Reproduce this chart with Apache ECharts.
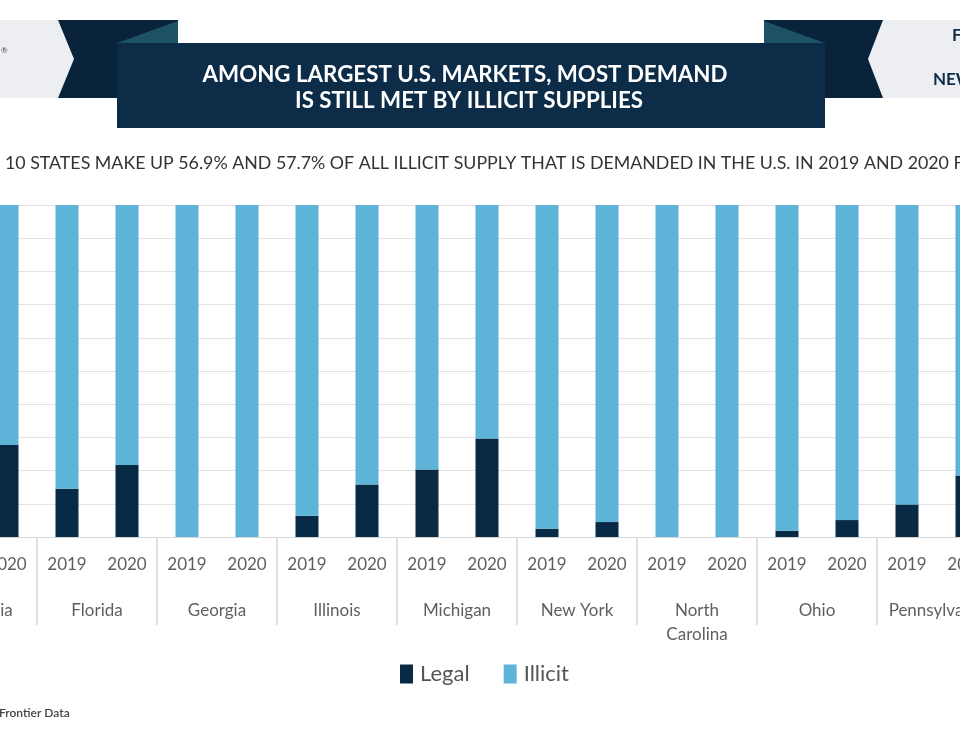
<!DOCTYPE html>
<html>
<head>
<meta charset="utf-8">
<script src="https://cdn.jsdelivr.net/npm/echarts@6/dist/echarts.min.js"></script>
<style>html,body{margin:0;padding:0;background:#fff;overflow:hidden;width:960px;height:750px}#c{position:absolute;left:-120px;top:0;width:1200px;height:750px}</style>
</head>
<body>
<div id="c"></div>
<script>
// ---- data ----
var states = ['California', 'Florida', 'Georgia', 'Illinois', 'Michigan', 'New York', 'North\nCarolina', 'Ohio', 'Pennsylvania'];
var years = ['2019', '2020', '2019', '2020', '2019', '2020', '2019', '2020', '2019', '2020', '2019', '2020', '2019', '2020', '2019', '2020', '2019', '2020'];
// share of demand (%) met by legal supply, per state-year
var legal =   [26.0, 27.7, 14.5, 21.7, 0, 0, 6.4, 15.8, 20.3, 29.7, 2.5, 4.5, 0, 0, 1.9, 5.1, 9.8, 18.5];
// share of demand (%) met by illicit supply, per state-year
var illicit = [74.0, 72.3, 85.5, 78.3, 100, 100, 93.6, 84.2, 79.7, 70.3, 97.5, 95.5, 100, 100, 98.1, 94.9, 90.2, 81.5];
var titleLines = ['AMONG LARGEST U.S. MARKETS, MOST DEMAND', 'IS STILL MET BY ILLICIT SUPPLIES'];
var subtitle = '10 STATES MAKE UP 56.9% AND 57.7% OF ALL ILLICIT SUPPLY THAT IS DEMANDED IN THE U.S. IN 2019 AND 2020 F';
var source = 'Frontier Data';

var FONT = 'Lato, "Open Sans", sans-serif';
var NAVY = '#0d2c48';
var DARK = '#08233a';
var TEAL = '#1d5166';
var GREY = '#eceef1';
var OX = 120; // the drawing surface starts 120px left of the visible page

function P(pts) { return pts.map(function (p) { return [p[0] + OX, p[1]]; }); }

var chart = echarts.init(document.getElementById('c'), null, {renderer: 'canvas'});
chart.setOption({
  animation: false,
  backgroundColor: '#ffffff',
  textStyle: {fontFamily: FONT},
  grid: {left: 37, right: 83, top: 205, bottom: 213, containLabel: false},
  legend: {
    data: ['Legal', 'Illicit'],
    left: 395 + OX, top: 658,
    itemWidth: 13, itemHeight: 19, itemGap: 34,
    icon: 'rect',
    textStyle: {fontSize: 22, color: '#555', fontFamily: FONT, padding: [0, 0, 0, 2]}
  },
  xAxis: [
    {
      type: 'category', data: years, position: 'bottom',
      axisLine: {show: true, lineStyle: {color: '#d6d6d6', width: 1}},
      axisTick: {show: false},
      axisLabel: {interval: 0, fontSize: 17, color: '#5f5f5f', margin: 19, fontFamily: FONT}
    },
    {
      type: 'category', data: states, position: 'bottom', offset: 0,
      axisLine: {show: false},
      axisTick: {show: true, interval: 0, length: 88, lineStyle: {color: '#d6d6d6', width: 1.5}},
      axisLabel: {interval: 0, fontSize: 17, color: '#5f5f5f', margin: 62, lineHeight: 24, fontFamily: FONT, verticalAlign: 'top'}
    }
  ],
  yAxis: {
    type: 'value', min: 0, max: 100, interval: 10,
    axisLabel: {show: false}, axisLine: {show: false}, axisTick: {show: false},
    splitLine: {lineStyle: {color: '#e3e3e3', width: 1}}
  },
  series: [
    {name: 'Legal', type: 'bar', stack: 's', data: legal, barWidth: 23, itemStyle: {color: '#082a45'}, xAxisIndex: 0},
    {name: 'Illicit', type: 'bar', stack: 's', data: illicit, barWidth: 23, itemStyle: {color: '#5db3d8'}, xAxisIndex: 0}
  ],
  graphic: [
    {type: 'rect', z: 1, shape: {x: OX, y: 20, width: 76, height: 78}, style: {fill: GREY}},
    {type: 'text', z: 2, x: OX + 1, y: 50, style: {text: '®', font: '8px ' + FONT, fill: '#445', textVerticalAlign: 'middle'}},
    {type: 'polygon', z: 2, shape: {points: P([[58, 20], [178, 20], [178, 98], [58, 98], [74, 59]])}, style: {fill: DARK}},
    {type: 'polygon', z: 3, shape: {points: P([[117, 43], [178, 21], [178, 43]])}, style: {fill: TEAL}},
    {type: 'rect', z: 1, shape: {x: 866 + OX, y: 20, width: 94, height: 78}, style: {fill: GREY}},
    {type: 'polygon', z: 2, shape: {points: P([[764, 20], [883, 20], [868, 59], [883, 98], [764, 98]])}, style: {fill: DARK}},
    {type: 'polygon', z: 3, shape: {points: P([[764, 21], [825, 43], [764, 43]])}, style: {fill: TEAL}},
    {type: 'text', z: 3, x: 952 + OX, y: 36, style: {text: 'F', font: 'bold 17px ' + FONT, fill: NAVY, textVerticalAlign: 'middle'}},
    {type: 'text', z: 3, x: 933 + OX, y: 80, style: {text: 'NEW', font: 'bold 17px ' + FONT, fill: NAVY, textVerticalAlign: 'middle'}},
    {type: 'rect', z: 4, shape: {x: 117 + OX, y: 43, width: 708, height: 85}, style: {fill: NAVY}},
    {type: 'text', z: 5, x: 465 + OX, y: 75, style: {text: titleLines[0], font: 'bold 22.3px ' + FONT, fill: '#ffffff', textAlign: 'center', textVerticalAlign: 'middle'}},
    {type: 'text', z: 5, x: 469 + OX, y: 101, style: {text: titleLines[1], font: 'bold 22.3px ' + FONT, fill: '#ffffff', textAlign: 'center', textVerticalAlign: 'middle'}},
    {type: 'text', z: 5, x: 5 + OX, y: 163, style: {text: subtitle, font: '17.8px ' + FONT, fill: '#333333', textVerticalAlign: 'middle'}},
    {type: 'text', z: 5, x: OX - 1, y: 713, style: {text: source, font: '600 12px ' + FONT, fill: '#444444', textVerticalAlign: 'middle'}}
  ]
});
</script>
</body>
</html>
